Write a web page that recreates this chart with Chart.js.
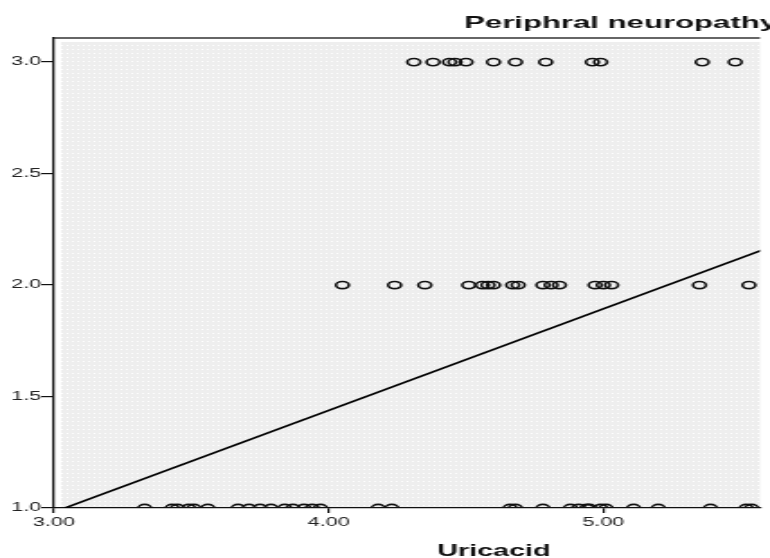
<!DOCTYPE html>
<html>
<head>
<meta charset="utf-8">
<script src="https://cdn.jsdelivr.net/npm/chart.js@4/dist/chart.umd.min.js"></script>
<style>
  html, body { margin: 0; padding: 0; background: #fff; }
  #myChart { display: block; }
</style>
</head>
<body>
<!-- drawn narrow and stretched wide, like the original export -->
<canvas id="myChart" width="428" height="558" style="width:770px;height:558px"></canvas>
<script>
// Uricacid values at each neuropathy level
let uricLevel3 = [4.31, 4.38, 4.44, 4.46, 4.50, 4.60, 4.68, 4.79, 4.96, 4.99, 5.36, 5.48];
let uricLevel2 = [4.05, 4.24, 4.35, 4.51, 4.56, 4.58, 4.60, 4.67, 4.69, 4.78, 4.81, 4.84,
                  4.97, 5.00, 5.03, 5.35, 5.53];
let uricLevel1 = [3.33, 3.43, 3.45, 3.49, 3.51, 3.56, 3.67, 3.71, 3.75, 3.79, 3.84, 3.87,
                  3.91, 3.94, 3.97, 4.18, 4.23, 4.66, 4.68, 4.78, 4.88, 4.91, 4.94, 4.95,
                  4.99, 5.01, 5.11, 5.20, 5.39, 5.52, 5.54];
let levels = [3, 2, 1];
// fit line end points
let fitX = [3.04, 5.6];
let fitY = [1.0, 2.167];
let xTicks = [3, 4, 5];
let yTicks = [1.0, 1.5, 2.0, 2.5, 3.0];
let chartTitle = 'Periphral neuropathy';
let xTitle = 'Uricacid';

function toPoints(xs, level) {
  let arr = [];
  for (let i = 0; i < xs.length; i++) {
    arr.push({x: xs[i], y: level});
  }
  return arr;
}

let scatterData = []
  .concat(toPoints(uricLevel3, levels[0]))
  .concat(toPoints(uricLevel2, levels[1]))
  .concat(toPoints(uricLevel1, levels[2]));

let fitData = [];
for (let i = 0; i < fitX.length; i++) fitData.push({x: fitX[i], y: fitY[i]});

// dotted grey plot fill
function makePattern(ctx) {
  let c = document.createElement('canvas');
  c.width = 3; c.height = 4;
  let pc = c.getContext('2d');
  pc.fillStyle = '#eeeeee';
  pc.fillRect(0, 0, 3, 4);
  pc.fillStyle = '#ffffff';
  pc.fillRect(1, 1, 1, 1);
  return ctx.createPattern(c, 'repeat');
}

const tickFont = {family: '"Liberation Sans", Arial, sans-serif', size: 12};

const plotBg = {
  id: 'plotBg',
  beforeDraw(chart) {
    let ctx = chart.ctx, a = chart.chartArea;
    ctx.save();
    ctx.fillStyle = '#fff';
    ctx.fillRect(0, 0, chart.width, chart.height);
    ctx.fillStyle = makePattern(ctx);
    ctx.fillRect(a.left + 4, a.top + 4, a.right - a.left - 4, a.bottom - a.top - 4);
    ctx.restore();
  },
  afterDraw(chart) {
    let ctx = chart.ctx, a = chart.chartArea;
    ctx.save();
    // top frame
    ctx.strokeStyle = '#333';
    ctx.lineWidth = 1.5;
    ctx.beginPath();
    ctx.moveTo(a.left, a.top);
    ctx.lineTo(a.right, a.top);
    ctx.stroke();
    ctx.fillStyle = '#111';
    ctx.font = 'bold 17.3px "Liberation Sans", Arial, sans-serif';
    ctx.textBaseline = 'alphabetic';
    ctx.textAlign = 'left';
    ctx.fillText(chartTitle, 258, 28);
    ctx.font = 'bold 16px "Liberation Sans", Arial, sans-serif';
    ctx.textAlign = 'center';
    ctx.fillText(xTitle, 274.5, 556);
    ctx.restore();
  }
};

let ctx = document.getElementById('myChart').getContext('2d');
let myChart = new Chart(ctx, {
  type: 'scatter',
  data: {
    datasets: [{
      label: 'points',
      data: scatterData,
      pointStyle: 'circle',
      pointRadius: 3.6,
      pointBorderWidth: 1.6,
      borderColor: '#111',
      backgroundColor: 'rgba(0,0,0,0)',
      clip: 0
    }, {
      type: 'line',
      label: 'fit',
      data: fitData,
      borderColor: '#000',
      borderWidth: 1.6,
      pointRadius: 0,
      fill: false,
      clip: 0
    }]
  },
  options: {
    responsive: false,
    devicePixelRatio: 1,
    animation: false,
    layout: {padding: {top: 38, left: 0, right: 0, bottom: 0}},
    plugins: {
      legend: {display: false},
      tooltip: {enabled: false},
      title: {display: false}
    },
    scales: {
      x: {
        type: 'linear',
        min: 3.0,
        max: 5.57,
        afterBuildTicks: s => { s.ticks = xTicks.map(v => ({value: v})); },
        afterFit: s => { s.height = 50; },
        ticks: {
          callback: v => Number(v).toFixed(2),
          font: tickFont,
          color: '#222',
          padding: 2,
          maxRotation: 0
        },
        grid: {drawOnChartArea: false, drawTicks: true, tickLength: 5, color: '#111', lineWidth: 1.2},
        border: {color: '#111', width: 1.3}
      },
      y: {
        type: 'linear',
        min: 1.0,
        max: 3.108,
        afterBuildTicks: s => { s.ticks = yTicks.map(v => ({value: v})); },
        afterFit: s => { s.width = 30; },
        ticks: {
          callback: v => Number(v).toFixed(1),
          font: tickFont,
          color: '#222',
          padding: 0
        },
        grid: {drawOnChartArea: false, drawTicks: true, tickLength: 7, color: '#111', lineWidth: 1.2},
        border: {color: '#111', width: 1.3}
      }
    }
  },
  plugins: [plotBg]
});
</script>
</body>
</html>
